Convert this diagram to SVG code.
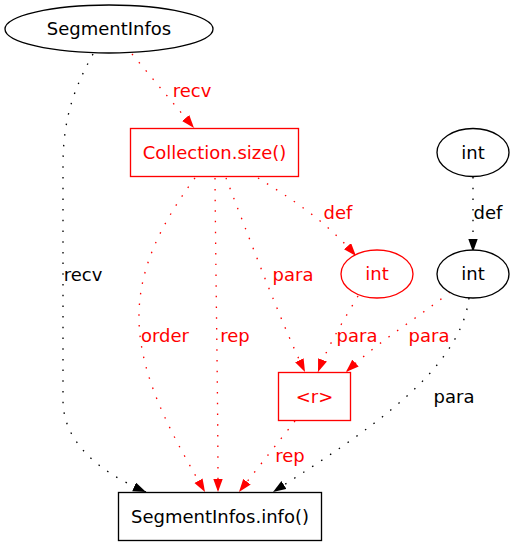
<svg xmlns="http://www.w3.org/2000/svg" width="515" height="547" viewBox="0 0 515 547">
<defs>
<style>
text{font-family:"DejaVu Sans","Liberation Sans",sans-serif;font-size:18px;text-anchor:middle}
.n{fill:#fff;stroke:#000;stroke-width:1.33}
.nr{fill:#fff;stroke:#f00;stroke-width:1.33}
.tb{fill:#000}
.tr{fill:#f00}
.e{fill:none;stroke:#000;stroke-width:1.33;stroke-dasharray:1.5,9.2;marker-end:url(#ab)}
.er{fill:none;stroke:#f00;stroke-width:1.33;stroke-dasharray:1.5,9.2;marker-end:url(#ar)}
</style>
<marker id="ab" markerUnits="userSpaceOnUse" markerWidth="14" markerHeight="10" refX="13" refY="4.7" orient="auto"><path d="M0,0 L13,4.7 L0,9.4 Z" fill="#000"/></marker>
<marker id="ar" markerUnits="userSpaceOnUse" markerWidth="14" markerHeight="10" refX="13" refY="4.7" orient="auto"><path d="M0,0 L13,4.7 L0,9.4 Z" fill="#f00"/></marker>
</defs>
<rect width="515" height="547" fill="#fff"/>
<g id="edges">
<path class="er" d="M132,54 L194,128"/>
<text class="tr" x="192" y="97">recv</text>
<path class="e" d="M93,54 C76,85 63,115 63,165 L63,400 C63,440 95,470 146,492"/>
<text class="tb" x="83" y="281">recv</text>
<path class="er" d="M258,178 C290,198 325,220 356,256"/>
<text class="tr" x="338" y="219">def</text>
<path class="e" d="M473,177 L473,252"/>
<text class="tb" x="488" y="219">def</text>
<path class="er" d="M226,178 C250,240 280,320 305,372"/>
<text class="tr" x="293" y="281">para</text>
<path class="er" d="M195,178 C160,225 138,270 139,320 C140,380 175,440 205,492"/>
<text class="tr" x="165" y="342">order</text>
<path class="er" d="M215,178 C216,300 218,400 218,492"/>
<text class="tr" x="235" y="342">rep</text>
<path class="er" d="M358,296 C345,318 328,345 318,372"/>
<text class="tr" x="357" y="342">para</text>
<path class="er" d="M450,292 C415,320 380,340 346,372"/>
<text class="tr" x="429" y="342">para</text>
<path class="e" d="M469,298 C460,370 370,430 273,492"/>
<text class="tb" x="454" y="403">para</text>
<path class="er" d="M295,421 C280,440 260,465 239,492"/>
<text class="tr" x="290" y="462">rep</text>
</g>
<g id="segmentinfos">
<ellipse class="n" cx="109" cy="29" rx="104" ry="24"/>
<text class="tb" x="109" y="35">SegmentInfos</text>
</g>
<g id="collection_size">
<rect class="nr" x="130.5" y="128.5" width="168" height="48"/>
<text class="tr" x="214.5" y="158.5">Collection.size()</text>
</g>
<g id="int_top">
<ellipse class="n" cx="473" cy="152.5" rx="36" ry="24"/>
<text class="tb" x="473" y="158.5">int</text>
</g>
<g id="int_red">
<ellipse class="nr" cx="377" cy="274" rx="36" ry="24"/>
<text class="tr" x="377" y="280">int</text>
</g>
<g id="int_black">
<ellipse class="n" cx="473" cy="274" rx="36" ry="24"/>
<text class="tb" x="473" y="280">int</text>
</g>
<g id="r">
<rect class="nr" x="278.5" y="372.5" width="72" height="48"/>
<text class="tr" x="314.5" y="402.5">&lt;r&gt;</text>
</g>
<g id="segmentinfos_info">
<rect class="n" x="118.5" y="492.5" width="203" height="48"/>
<text class="tb" x="220" y="522.5">SegmentInfos.info()</text>
</g>
</svg>
